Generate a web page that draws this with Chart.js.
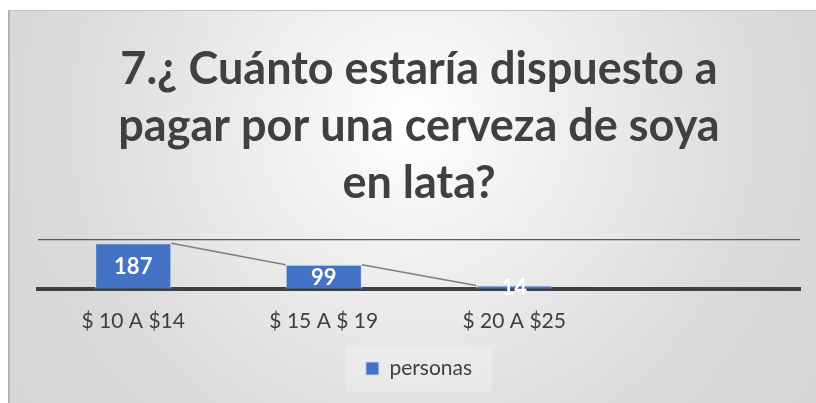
<!DOCTYPE html>
<html>
<head>
<meta charset="utf-8">
<script src="https://cdn.jsdelivr.net/npm/chart.js@4"></script>
<style>
    html, body { margin: 0; padding: 0; background: #ffffff; }
    #wrap { position: relative; width: 816px; height: 403px; overflow: hidden; }
    #box {
        position: absolute; left: 8px; top: 10px; right: 0; bottom: 0;
        border-left: 2px solid #b4b4b4; border-top: 1px solid #c4c4c4;
        background: radial-gradient(circle at 50% 28%, #ffffff 0%, #f3f3f3 22%, #dadada 72%, #d6d6d6 100%);
    }
    #chart { position: absolute; left: 0; top: 0; }
</style>
</head>
<body>
<div id="wrap">
    <div id="box"></div>
    <canvas id="chart" width="816" height="403"></canvas>
</div>
<script>
    // ============================
    // Data
    // ============================
    const TITLE_LINES = ["7.¿ Cuánto estaría dispuesto a", "pagar por una cerveza de soya", "en lata?"];
    const CATEGORIES = ["$ 10 A $14", "$ 15 A $ 19", "$ 20 A $25", ""];
    const PERSONAS = [187, 99, 14, null];
    const SERIES_NAME = "personas";
    const Y_TICKS = [0, 200];

    const TEXT_COLOR = "#404040";
    const BAR_COLOR = "#4472c4";

    // lineas de serie (de la esquina derecha de una barra a la izquierda de la siguiente)
    const seriesLines = {
        id: "seriesLines",
        afterDatasetsDraw(chart) {
            const meta = chart.getDatasetMeta(0);
            const ctx = chart.ctx;
            ctx.save();
            ctx.strokeStyle = "#7f7f7f";
            ctx.lineWidth = 1.5;
            for (let i = 0; i < meta.data.length - 1; i++) {
                const a = meta.data[i], b = meta.data[i + 1];
                if (PERSONAS[i] == null || PERSONAS[i + 1] == null) continue;
                ctx.beginPath();
                ctx.moveTo(a.x + a.width / 2, a.y);
                ctx.lineTo(b.x - b.width / 2, b.y);
                ctx.stroke();
            }
            ctx.restore();
        }
    };

    // etiquetas de datos (centro de la barra)
    const barLabels = {
        id: "barLabels",
        afterDraw(chart) {
            const meta = chart.getDatasetMeta(0);
            const ctx = chart.ctx;
            ctx.save();
            ctx.fillStyle = "#ffffff";
            ctx.font = "bold 22px Lato, 'Open Sans', sans-serif";
            ctx.textAlign = "center";
            ctx.textBaseline = "middle";
            meta.data.forEach((bar, i) => {
                const v = PERSONAS[i];
                if (v == null) return;
                ctx.fillText(String(v), bar.x, (bar.y + bar.base) / 2 + 1);
            });
            ctx.restore();
        }
    };

    // fondo del cuadro de leyenda
    const legendBg = {
        id: "legendBg",
        beforeDraw(chart) {
            const lg = chart.legend;
            if (!lg || !lg.legendHitBoxes || !lg.legendHitBoxes.length) return;
            const hb = lg.legendHitBoxes[0];
            const ctx = chart.ctx;
            ctx.save();
            ctx.fillStyle = "rgba(255,255,255,0.22)";
            const cy = hb.top + hb.height / 2;
            ctx.fillRect(hb.left - 20, cy - 22, hb.width + 40, 45);
            ctx.restore();
        }
    };

    const ctx = document.getElementById("chart").getContext("2d");
    new Chart(ctx, {
        type: "bar",
        data: {
            labels: CATEGORIES,
            datasets: [{
                label: SERIES_NAME,
                data: PERSONAS,
                backgroundColor: BAR_COLOR,
                borderColor: "rgba(200,215,240,0.9)",
                borderWidth: 1,
                barPercentage: 0.4,
                categoryPercentage: 1.0
            }]
        },
        options: {
            responsive: false,
            animation: false,
            layout: { padding: { left: 38, right: 16, top: 0, bottom: 14 } },
            plugins: {
                tooltip: { enabled: false },
                title: {
                    display: true,
                    text: TITLE_LINES,
                    color: TEXT_COLOR,
                    font: { family: "Lato, 'Open Sans', sans-serif", size: 45, weight: "bold", lineHeight: 1.267 },
                    padding: { top: 41, bottom: 28 }
                },
                legend: {
                    position: "bottom",
                    labels: {
                        color: TEXT_COLOR,
                        font: { family: "Lato, 'Open Sans', sans-serif", size: 21 },
                        boxWidth: 13,
                        boxHeight: 13,
                        padding: 4
                    }
                }
            },
            scales: {
                x: {
                    z: 1,
                    grid: { display: false, drawTicks: false },
                    border: { display: true, color: "#404040", width: 4 },
                    ticks: {
                        color: TEXT_COLOR,
                        padding: 20,
                        font: { family: "Lato, 'Open Sans', sans-serif", size: 21 },
                        maxRotation: 0,
                        autoSkip: false
                    }
                },
                y: {
                    min: Y_TICKS[0],
                    max: Y_TICKS[Y_TICKS.length - 1],
                    afterBuildTicks(scale) { scale.ticks = Y_TICKS.map(v => ({ value: v })); },
                    border: { display: false },
                    grid: {
                        drawTicks: false,
                        color: "#595959",
                        lineWidth: (c) => (c.tick && c.tick.value === 0) ? 0 : 1.3
                    },
                    ticks: { display: false }
                }
            }
        },
        plugins: [legendBg, seriesLines, barLabels]
    });
</script>
</body>
</html>
